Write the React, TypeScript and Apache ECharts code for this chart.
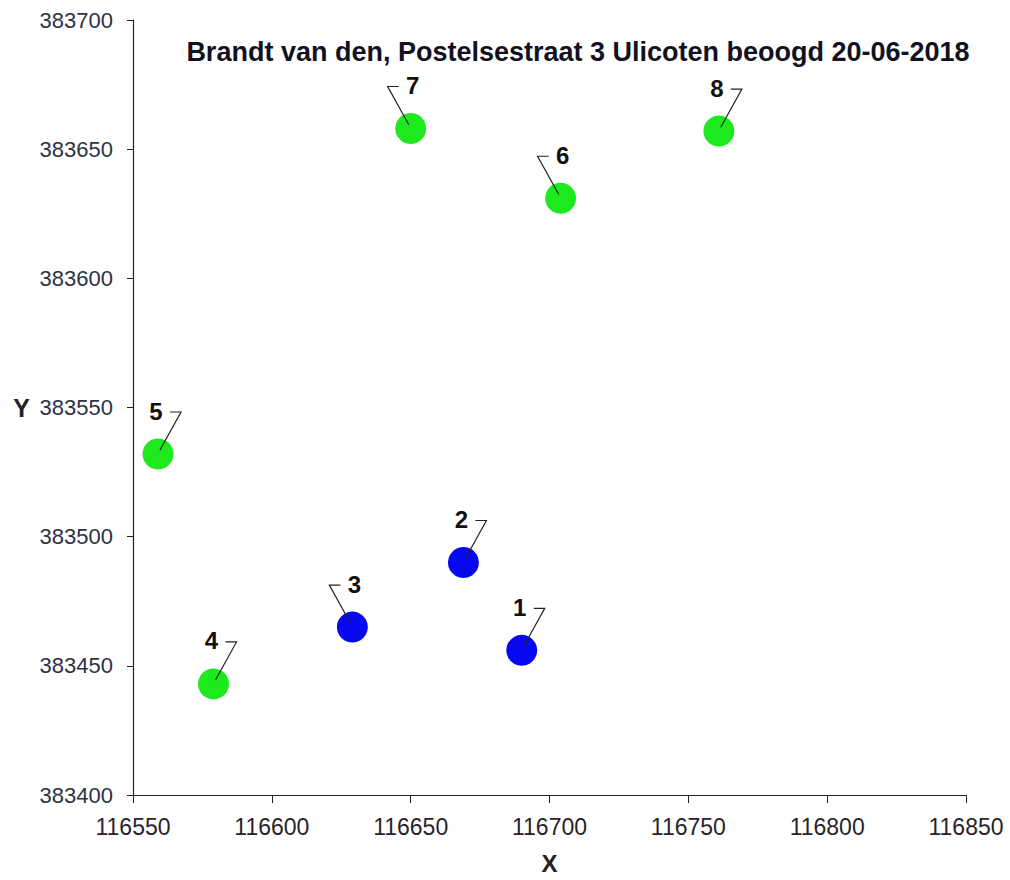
import React, { useEffect, useRef } from "react";
import * as echarts from "echarts";

const titleText = "Brandt van den, Postelsestraat 3 Ulicoten beoogd 20-06-2018";
const pointLabels = ["1", "2", "3", "4", "5", "6", "7", "8"];
const xValues = [116690, 116669, 116629, 116579, 116559, 116704, 116650, 116761];
const yValues = [383456, 383490, 383465, 383443, 383532, 383631, 383658, 383657];
const pointGroup = ["blue", "blue", "blue", "green", "green", "green", "green", "green"];
const labelSide = [1, 1, -1, 1, 1, -1, -1, 1];

const xMin = 116550;
const xMax = 116850;
const yMin = 383400;
const yMax = 383700;
const step = 50;

export default function App() {
  const ref = useRef<HTMLDivElement>(null);

  useEffect(() => {
    document.body.style.margin = "0";
    if (!ref.current) return;
    const chart = echarts.init(ref.current, undefined, { renderer: "svg" });

    const blueData = xValues
      .map((x, i) => [x, yValues[i], i])
      .filter((d) => pointGroup[d[2] as number] === "blue");
    const greenData = xValues
      .map((x, i) => [x, yValues[i], i])
      .filter((d) => pointGroup[d[2] as number] === "green");
    const labelData = xValues.map((x, i) => [x, yValues[i], i]);

    const font = "Liberation Sans, Arial, sans-serif";

    chart.setOption({
      animation: false,
      backgroundColor: "#ffffff",
      title: {
        text: titleText,
        left: 573,
        top: 33,
        textAlign: "center",
        textStyle: { fontFamily: font, fontSize: 27, fontWeight: "bold", color: "#111122" },
      },
      grid: {
        left: 133,
        right: 44,
        top: 20,
        bottom: 85,
        containLabel: false,
        outerBoundsMode: "none",
      },
      xAxis: {
        type: "value",
        min: xMin,
        max: xMax,
        interval: step,
        name: "X",
        nameLocation: "middle",
        nameGap: 56,
        nameTextStyle: { fontFamily: font, fontSize: 24, fontWeight: "bold", color: "#222" },
        axisLine: { show: true, onZero: false, lineStyle: { color: "#222", width: 1.2 } },
        axisTick: { show: true, inside: false, length: 8, lineStyle: { color: "#222" } },
        axisLabel: {
          margin: 20,
          fontFamily: font,
          fontSize: 23,
          color: "#2a1f2a",
          formatter: (v: number) => String(v),
        },
        splitLine: { show: false },
      },
      yAxis: {
        type: "value",
        min: yMin,
        max: yMax,
        interval: step,
        name: "Y",
        nameLocation: "middle",
        nameRotate: 0,
        nameGap: 103,
        nameTextStyle: { fontFamily: font, fontSize: 25, fontWeight: "bold", color: "#222" },
        axisLine: { show: true, onZero: false, lineStyle: { color: "#222", width: 1.2 } },
        axisTick: { show: true, inside: false, length: 6, lineStyle: { color: "#222" } },
        axisLabel: {
          margin: 20,
          fontFamily: font,
          fontSize: 22,
          color: "#2e3245",
          formatter: (v: number) => String(v),
        },
        splitLine: { show: false },
      },
      series: [
        {
          type: "scatter",
          data: blueData,
          symbolSize: 31,
          itemStyle: { color: "#0808f0", opacity: 1 },
          z: 2,
        },
        {
          type: "scatter",
          data: greenData,
          symbolSize: 31,
          itemStyle: { color: "#1ee81e", opacity: 1 },
          z: 2,
        },
        {
          type: "custom",
          data: labelData,
          z: 5,
          renderItem: (params: any, api: any) => {
            const p = api.coord([api.value(0), api.value(1)]);
            const i = api.value(2);
            const s = labelSide[i];
            const cx = p[0];
            const cy = p[1];
            return {
              type: "group",
              children: [
                {
                  type: "polyline",
                  shape: {
                    points: [
                      [cx + s * 2, cy - 4],
                      [cx + s * 23, cy - 42],
                      [cx + s * 12, cy - 42],
                    ],
                  },
                  style: { stroke: "#222", lineWidth: 1.2, fill: null },
                },
                {
                  type: "text",
                  x: cx - s * 2,
                  y: cy - 43,
                  style: {
                    text: pointLabels[i],
                    fontFamily: font,
                    fontSize: 24,
                    fontWeight: "bold",
                    fill: "#111",
                    align: "center",
                    verticalAlign: "middle",
                  },
                },
              ],
            };
          },
        },
      ],
    });

    return () => chart.dispose();
  }, []);

  return <div ref={ref} style={{ width: 1010, height: 880 }} />;
}
